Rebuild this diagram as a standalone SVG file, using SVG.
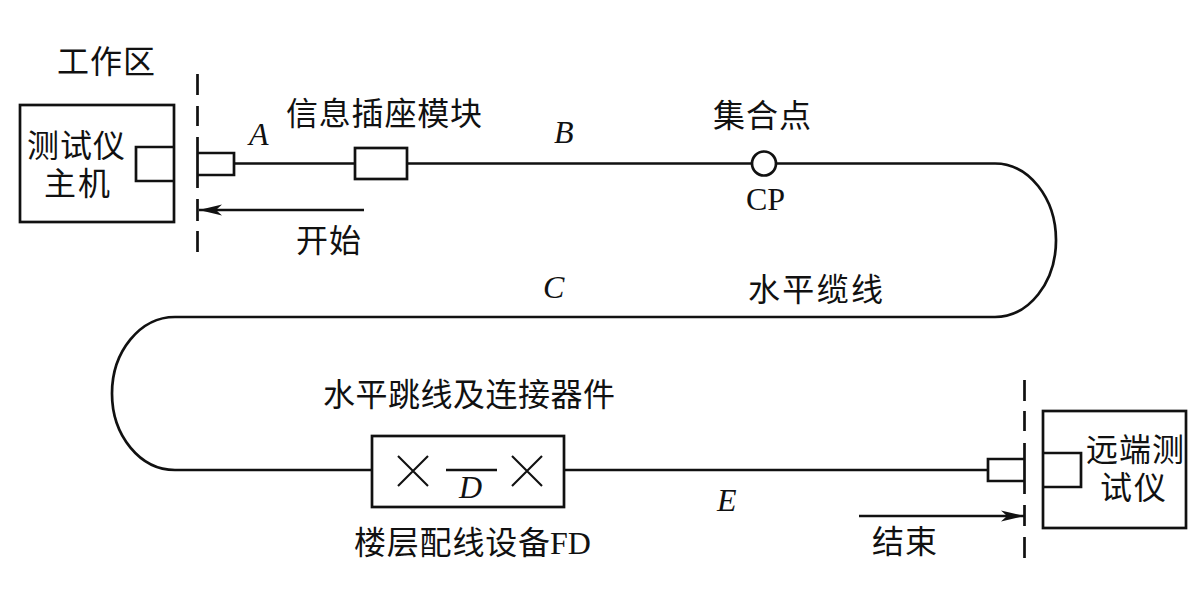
<svg xmlns="http://www.w3.org/2000/svg" width="1199" height="599" viewBox="0 0 1199 599">
<style>
.l{fill:none;stroke:#111;stroke-width:2.7}
.t{fill:none;stroke:#111;stroke-width:2.1}
.b{fill:#fff;stroke:#111;stroke-width:2.7}
text{font-family:"Liberation Serif","Noto Sans CJK SC",serif;font-size:32px;fill:#111}
.i{font-style:italic}
</style>
<defs><marker id="a" markerWidth="24" markerHeight="12" refX="23" refY="6" orient="auto" markerUnits="userSpaceOnUse"><path d="M0 0.5L23 6L0 11.5L6 6Z" fill="#111"/></marker></defs>
<rect width="1199" height="599" fill="#fff"/>
<g id="connectors">
<path class="l" d="M234 163.500H355M407 163.500H752M776 163.500H995A61 76.700 0 0 1 995 317H175A63 76.500 0 0 0 175 470H372M564 470H988"/>
<path class="l" d="M364 210H199" marker-end="url(#a)"/>
<path class="l" d="M859 516H1024" marker-end="url(#a)"/>
</g>
<g id="left-divider"><path class="l" d="M197.500 74V95M197.500 106V126M197.500 137V188M197.500 199V221M197.500 231V252"/></g>
<g id="right-divider"><path class="l" d="M1024.500 380V401M1024.500 411V431M1024.500 443V494M1024.500 505V526M1024.500 537V558"/></g>
<g id="host"><rect class="b" x="20" y="105" width="154" height="117"/><path class="l" d="M174 147H136V181H174"/>
<text x="27" y="157" textLength="98">测试仪</text><text x="44" y="195" textLength="66">主机</text></g>
<g id="plug-left"><path class="l" d="M198 153H234V175H198"/></g>
<g id="outlet"><rect class="b" x="355" y="148" width="52" height="31"/></g>
<g id="cp"><circle class="b" cx="764" cy="163.500" r="12"/></g>
<g id="fd"><rect class="b" x="372" y="436" width="192" height="71"/>
<path class="t" d="M398 456L428 486M428 456L398 486M512 456L542 486M542 456L512 486"/><path class="l" d="M446 470H497"/></g>
<g id="plug-right"><path class="l" d="M1024 459H988V481H1024"/></g>
<g id="remote"><rect class="b" x="1043" y="411" width="143" height="117"/><path class="l" d="M1043 453H1081V487H1043"/>
<text x="1086" y="461" textLength="98">远端测</text><text x="1100" y="499" textLength="66">试仪</text></g>
<g id="labels">
<text x="57" y="73" textLength="98">工作区</text>
<text x="286" y="125" textLength="196">信息插座模块</text>
<text x="713" y="127" textLength="98">集合点</text>
<text x="746" y="210">CP</text>
<text x="296" y="252" textLength="65">开始</text>
<text x="748" y="301" textLength="135">水平缆线</text>
<text x="323" y="406" textLength="292">水平跳线及连接器件</text>
<text x="354" y="554" textLength="196">楼层配线设备</text><text x="550" y="554">FD</text>
<text x="872" y="553" textLength="65">结束</text>
<text class="i" x="249" y="145">A</text>
<text class="i" x="554" y="143">B</text>
<text class="i" x="543" y="298">C</text>
<text class="i" x="459" y="498">D</text>
<text class="i" x="717" y="511">E</text>
</g>
</svg>
